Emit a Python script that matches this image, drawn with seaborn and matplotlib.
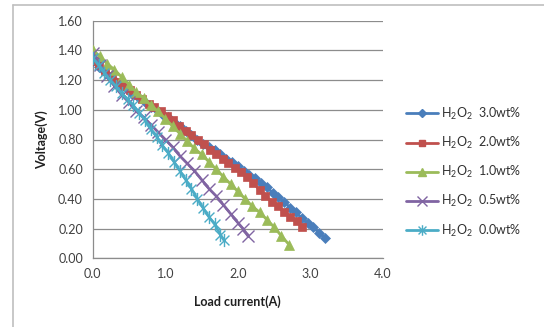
import matplotlib
matplotlib.use("Agg")
import matplotlib.pyplot as plt
import seaborn as sns
import pandas as pd
from matplotlib.path import Path
from matplotlib.lines import Line2D

# ---- data ----
labels = ["3.0wt%", "2.0wt%", "1.0wt%", "0.5wt%", "0.0wt%"]

x_30 = [0.00, 0.08, 0.16, 0.24, 0.32, 0.40, 0.48, 0.56, 0.64, 0.72, 0.80, 0.88, 0.96, 1.04,
        1.12, 1.20, 1.28, 1.36, 1.44, 1.52, 1.60, 1.68, 1.76, 1.84, 1.92, 2.00, 2.08, 2.16,
        2.24, 2.32, 2.40, 2.48, 2.56, 2.64, 2.72, 2.80, 2.88, 2.96, 3.04, 3.12, 3.20]
v_30 = [1.33, 1.29, 1.26, 1.22, 1.19, 1.16, 1.13, 1.10, 1.08, 1.05, 1.02, 1.00, 0.97, 0.95,
        0.92, 0.89, 0.86, 0.83, 0.80, 0.77, 0.75, 0.73, 0.70, 0.67, 0.65, 0.62, 0.59, 0.56,
        0.54, 0.51, 0.48, 0.44, 0.41, 0.38, 0.34, 0.31, 0.27, 0.24, 0.21, 0.17, 0.14]

x_20 = [0.00, 0.09, 0.17, 0.26, 0.34, 0.43, 0.51, 0.60, 0.68, 0.77, 0.85, 0.94, 1.02, 1.11,
        1.19, 1.28, 1.36, 1.45, 1.53, 1.62, 1.70, 1.79, 1.87, 1.96, 2.04, 2.13, 2.21, 2.30,
        2.38, 2.47, 2.55, 2.64, 2.72, 2.81, 2.89]
v_20 = [1.33, 1.30, 1.26, 1.23, 1.19, 1.16, 1.13, 1.10, 1.07, 1.04, 1.02, 0.99, 0.96, 0.93,
        0.89, 0.86, 0.83, 0.80, 0.77, 0.73, 0.70, 0.67, 0.64, 0.61, 0.58, 0.55, 0.51, 0.46,
        0.42, 0.38, 0.35, 0.31, 0.28, 0.25, 0.21]

x_10 = [0.0, 0.1, 0.2, 0.3, 0.4, 0.5, 0.6, 0.7, 0.8, 0.9, 1.0, 1.1, 1.2, 1.3, 1.4, 1.5,
        1.6, 1.7, 1.8, 1.9, 2.0, 2.1, 2.2, 2.3, 2.4, 2.5, 2.6, 2.71]
v_10 = [1.40, 1.36, 1.31, 1.27, 1.22, 1.17, 1.12, 1.08, 1.03, 0.99, 0.94, 0.89, 0.84, 0.79,
        0.74, 0.70, 0.65, 0.60, 0.55, 0.50, 0.45, 0.40, 0.35, 0.31, 0.26, 0.21, 0.15, 0.09]

x_05 = [0.0, 0.1, 0.2, 0.3, 0.4, 0.5, 0.6, 0.7, 0.8, 0.9, 1.0, 1.1, 1.2, 1.3, 1.4, 1.5,
        1.6, 1.7, 1.8, 1.9, 2.0, 2.07, 2.14]
v_05 = [1.38, 1.30, 1.23, 1.16, 1.10, 1.05, 0.99, 0.95, 0.90, 0.85, 0.80, 0.75, 0.69, 0.64,
        0.59, 0.53, 0.47, 0.42, 0.36, 0.30, 0.24, 0.20, 0.15]

x_00 = [0.00, 0.08, 0.16, 0.24, 0.32, 0.40, 0.48, 0.56, 0.64, 0.72, 0.80, 0.88, 0.96, 1.04,
        1.12, 1.20, 1.28, 1.36, 1.44, 1.52, 1.60, 1.68, 1.76, 1.81]
v_00 = [1.35, 1.30, 1.25, 1.20, 1.16, 1.11, 1.07, 1.03, 0.98, 0.93, 0.87, 0.82, 0.76, 0.71,
        0.65, 0.59, 0.53, 0.47, 0.40, 0.34, 0.28, 0.23, 0.16, 0.12]

x_ticks = [0.0, 1.0, 2.0, 3.0, 4.0]
y_ticks = [0.00, 0.20, 0.40, 0.60, 0.80, 1.00, 1.20, 1.40, 1.60]

# ---- style ----
sns.set_theme(style="white")
plt.rcParams["font.family"] = ["Lato", "DejaVu Sans"]
plt.rcParams["mathtext.fontset"] = "custom"
plt.rcParams["mathtext.rm"] = "Lato"
plt.rcParams["mathtext.it"] = "Lato"

star = Path([(0, -1), (0, 1), (-0.75, -0.75), (0.75, 0.75), (-0.75, 0.75), (0.75, -0.75)],
            [Path.MOVETO, Path.LINETO, Path.MOVETO, Path.LINETO, Path.MOVETO, Path.LINETO])

colors = ["#4A7EBB", "#C0504D", "#9BBB59", "#8064A2", "#4BACC6"]
markers = ["D", "s", "^", "x", star]
msizes = [5.0, 6.0, 7.5, 8.5, 9.5]
series = [(x_30, v_30), (x_20, v_20), (x_10, v_10), (x_05, v_05), (x_00, v_00)]

fig = plt.figure(figsize=(5.44, 3.27), dpi=100)
ax = fig.add_axes([92.7 / 544, 1 - 258.3 / 327, (383 - 92.7) / 544, (258.3 - 20.7) / 327])

handles = []
for (xs, vs), lab, c, m, ms in zip(series, labels, colors, markers, msizes):
    df = pd.DataFrame({"I": xs, "V": vs})
    thin = (m == "x") or (m is star)
    sns.lineplot(data=df, x="I", y="V", ax=ax, color=c, linewidth=2.0,
                 marker=m, markersize=ms, markeredgecolor=c, markerfacecolor=c,
                 markeredgewidth=1.0 if thin else 0.5,
                 legend=False, zorder=3)
    handles.append(Line2D([0], [0], color=c, linewidth=2.0, marker=m, markersize=ms * 0.8,
                          markeredgecolor=c, markerfacecolor=c, markeredgewidth=1.0))

ax.set_xlim(0, 4.0)
ax.set_ylim(0, 1.6)
ax.set_xticks(x_ticks)
ax.set_xticklabels([f"{t:.1f}" for t in x_ticks])
ax.set_yticks(y_ticks)
ax.set_yticklabels([f"{t:.2f}" for t in y_ticks])
ax.tick_params(axis="both", labelsize=9, colors="#404040", length=4, width=0.8,
               direction="out", pad=3)
ax.tick_params(axis="both", color="#8c8c8c")
ax.yaxis.grid(True, color="#8c8c8c", linewidth=0.9)
ax.xaxis.grid(False)
for s in ["top", "right"]:
    ax.spines[s].set_visible(False)
for s in ["left", "bottom"]:
    ax.spines[s].set_color("#8c8c8c")
    ax.spines[s].set_linewidth(0.9)
ax.set_xlabel("Load current(A)", fontsize=9, fontweight="bold", color="#202020", labelpad=11)
ax.set_ylabel("Voltage(V)", fontsize=9, fontweight="bold", color="#202020", labelpad=7)

leg_labels = [r"H$_2$O$_2$  " + l for l in labels]
leg = fig.legend(handles, leg_labels, loc="upper left", bbox_to_anchor=(0.738, 0.692),
                 frameon=False, fontsize=9, handlelength=2.5, labelspacing=1.05,
                 handletextpad=0.3, borderaxespad=0)
for t in leg.get_texts():
    t.set_color("#303030")

# chart-area border (top and left edges)
fig.add_artist(Line2D([13 / 544, 13 / 544], [0, 1 - 5 / 327], transform=fig.transFigure,
                      color="#bfbfbf", linewidth=1.2))
fig.add_artist(Line2D([13 / 544, 1], [1 - 5 / 327, 1 - 5 / 327], transform=fig.transFigure,
                      color="#bfbfbf", linewidth=1.2))

fig.savefig("out.png", dpi=100)
